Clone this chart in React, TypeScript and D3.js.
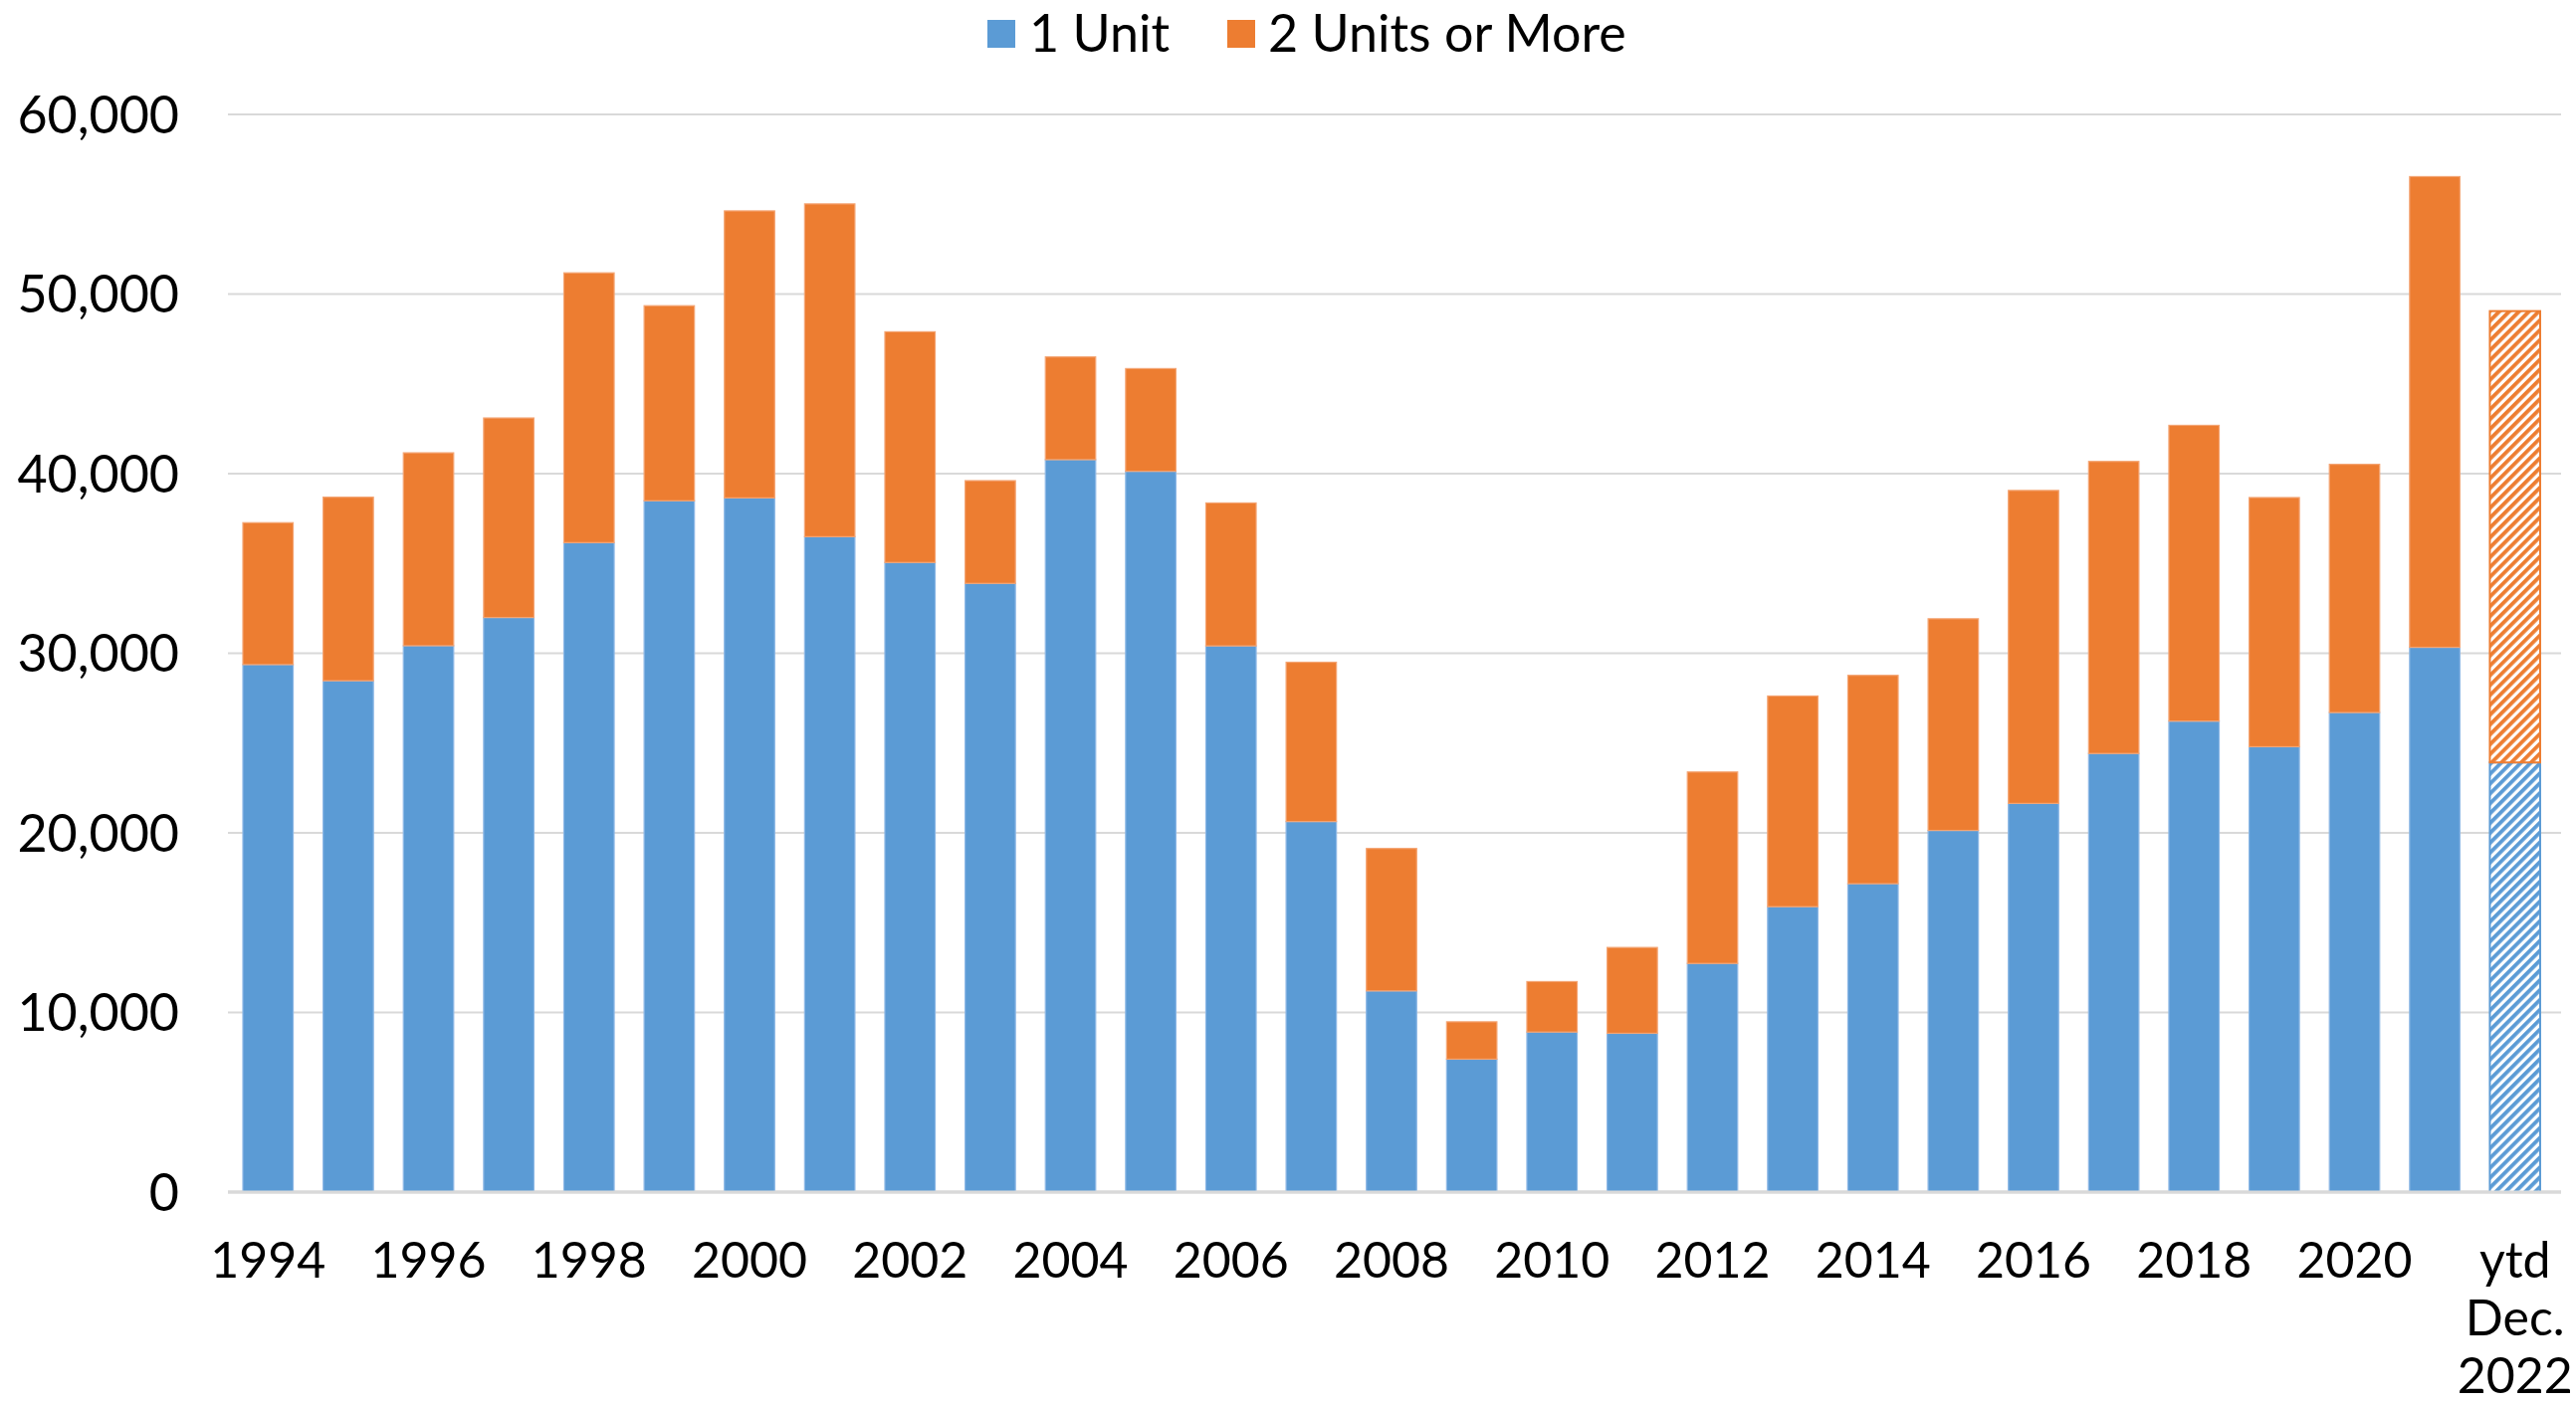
import React from 'react';
import * as d3 from 'd3';

// permits by year
const years = [
  '1994', '1995', '1996', '1997', '1998', '1999', '2000', '2001', '2002', '2003',
  '2004', '2005', '2006', '2007', '2008', '2009', '2010', '2011', '2012', '2013',
  '2014', '2015', '2016', '2017', '2018', '2019', '2020', '2021', 'ytd Dec. 2022',
];
const oneUnit = [
  29370, 28470, 30420, 31990, 36160, 38490, 38650, 36490, 35055, 33890,
  40780, 40130, 30410, 20630, 11200, 7400, 8910, 8840, 12730, 15890,
  17170, 20135, 21640, 24420, 26220, 24795, 26700, 30330, 23920,
];
const twoPlus = [
  7900, 10220, 10740, 11110, 15020, 10860, 15980, 18530, 12845, 5720,
  5720, 5720, 7960, 8870, 7930, 2080, 2810, 4780, 10660, 11730,
  11600, 11785, 17425, 16260, 16470, 13875, 13820, 26210, 25130,
];
const seriesNames = ['1 Unit', '2 Units or More'];
const yTicks = [0, 10000, 20000, 30000, 40000, 50000, 60000];

const W = 2588;
const H = 1412;
const colors = ['#5B9BD5', '#ED7D31'];
const edge = ['#8DB8E6', '#F4A574'];
const font = 'Lato, "Open Sans", sans-serif';

const App = () => {
  const x = d3.scaleBand().domain(years).range([229, 2567]).paddingInner(0.373).paddingOuter(0.186);
  const y = d3.scaleLinear().domain([0, 60000]).range([1198, 115]);
  const fmt = d3.format(',');

  const rows = years.map((yr, i) => ({ year: yr, a: oneUnit[i], b: twoPlus[i] }));
  const stacked = d3.stack<any>().keys(['a', 'b'])(rows);
  const last = years[years.length - 1];

  return (
    <svg width={W} height={H} style={{ position: 'absolute', left: 0, top: 0, background: '#fff' }}>
      <defs>
        {colors.map((c, i) => (
          <pattern key={i} id={`hatch${i}`} width={7} height={7} patternUnits="userSpaceOnUse" patternTransform="rotate(45)">
            <rect width={7} height={7} fill="#fff" />
            <rect width={3.8} height={7} fill={c} />
          </pattern>
        ))}
      </defs>

      {/* grid */}
      {yTicks.map((t) => (
        <line key={t} x1={229} x2={2573} y1={y(t)} y2={y(t)} stroke="#d9d9d9" strokeWidth={t === 0 ? 3 : 2} />
      ))}
      {yTicks.map((t) => (
        <text key={`l${t}`} x={180} y={y(t)} dy="0.36em" textAnchor="end" fontFamily={font} fontSize={52} fill="#000">
          {fmt(t)}
        </text>
      ))}

      {/* bars */}
      {stacked.map((s, si) => (
        <g key={si}>
          {s.map((d: any) => {
            const hatched = d.data.year === last;
            return (
              <rect
                key={d.data.year}
                x={x(d.data.year)}
                y={y(d[1])}
                width={x.bandwidth()}
                height={y(d[0]) - y(d[1])}
                fill={hatched ? `url(#hatch${si})` : colors[si]}
                stroke={hatched ? colors[si] : edge[si]}
                strokeWidth={hatched ? 2 : 1.2}
              />
            );
          })}
        </g>
      ))}
      <line x1={229} x2={2573} y1={y(0)} y2={y(0)} stroke="#d9d9d9" strokeWidth={3} />

      {/* x labels, every other year */}
      {years.map((yr, i) => {
        const cx = (x(yr) as number) + x.bandwidth() / 2;
        if (yr === last) {
          return (
            <text key={yr} x={cx} y={1284} textAnchor="middle" fontFamily={font} fontSize={50} fill="#000">
              {yr.split(' ').map((p, j) => (
                <tspan key={j} x={cx} dy={j === 0 ? 0 : 58}>{p}</tspan>
              ))}
            </text>
          );
        }
        if (i % 2 !== 0) return null;
        return (
          <text key={yr} x={cx} y={1284} textAnchor="middle" fontFamily={font} fontSize={50} fill="#000">
            {yr}
          </text>
        );
      })}

      {/* legend */}
      <rect x={992} y={20} width={28} height={28} fill={colors[0]} />
      <text x={1034} y={52} fontFamily={font} fontSize={52} fill="#000">{seriesNames[0]}</text>
      <rect x={1233} y={20} width={28} height={28} fill={colors[1]} />
      <text x={1274} y={52} fontFamily={font} fontSize={52} fill="#000">{seriesNames[1]}</text>
    </svg>
  );
};

export default App;
